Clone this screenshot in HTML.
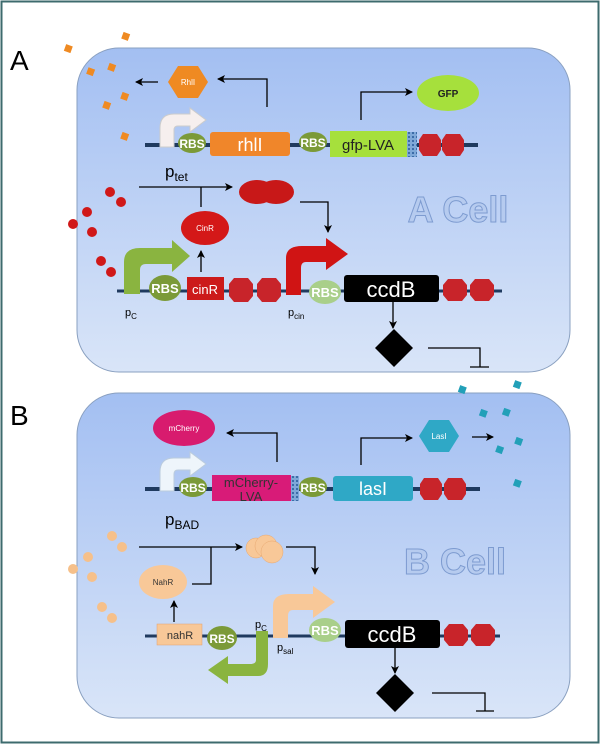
<!DOCTYPE html>
<html><head><meta charset="utf-8"><style>
html,body{margin:0;padding:0;background:#fff;}
svg{display:block;font-family:"Liberation Sans",Arial,sans-serif;}
</style></head><body>
<svg width="600" height="744" viewBox="0 0 600 744">
<defs>
<linearGradient id="cellg" x1="0" y1="0" x2="0" y2="1">
<stop offset="0" stop-color="#a3bff2"/><stop offset="1" stop-color="#d9e5f8"/></linearGradient>
<marker id="ah" markerWidth="8" markerHeight="8" refX="7" refY="4" orient="auto" markerUnits="userSpaceOnUse">
<path d="M0,0 L8,4 L0,8 L2,4 Z" fill="#000"/></marker>
<pattern id="hatch" width="4" height="4" patternUnits="userSpaceOnUse">
<rect width="4" height="4" fill="#7fa8d8"/><rect width="2" height="2" fill="#3c6ca8"/></pattern>
</defs>
<rect x="1.5" y="1.5" width="597" height="741" fill="#fff" stroke="#3d6b6e" stroke-width="2"/>

<!-- A -->
<text x="10" y="70" font-size="28" fill="#000">A</text>
<rect x="77" y="48" width="493" height="324" rx="42" fill="url(#cellg)" stroke="#8aa0c0" stroke-width="1"/>
<text x="458" y="222" font-size="36" font-weight="bold" text-anchor="middle" fill="#b6cbef" stroke="#7d9bd0" stroke-width="1">A Cell</text>

<g fill="#ef8a22">
<rect x="65" y="45" width="7" height="7" transform="rotate(20 68 48)"/>
<rect x="122" y="33" width="7" height="7" transform="rotate(20 126 37)"/>
<rect x="87" y="68" width="7" height="7" transform="rotate(20 90 72)"/>
<rect x="108" y="64" width="7" height="7" transform="rotate(20 112 68)"/>
<rect x="121" y="93" width="7" height="7" transform="rotate(20 125 97)"/>
<rect x="103" y="102" width="7" height="7" transform="rotate(20 107 106)"/>
<rect x="121" y="133" width="7" height="7" transform="rotate(20 125 137)"/>
</g>
<g fill="#d01818">
<circle cx="110" cy="192" r="5"/><circle cx="121" cy="202" r="5"/><circle cx="87" cy="212" r="5"/>
<circle cx="73" cy="224" r="5"/><circle cx="92" cy="232" r="5"/><circle cx="101" cy="261" r="5"/><circle cx="111" cy="272" r="5"/>
</g>

<line x1="145" y1="145" x2="478" y2="145" stroke="#1f3a5f" stroke-width="4"/>
<path d="M160,147 L160,128 Q160,114 174,114 L190,114 L190,108 L206,120 L190,132 L190,126 L178,126 Q174,126 174,130 L174,147 Z" fill="#f6efee" stroke="#ccc"/>
<ellipse cx="192" cy="143" rx="14" ry="10" fill="#7b9a38"/>
<text x="192" y="148" font-size="12" font-weight="bold" fill="#fff" text-anchor="middle">RBS</text>
<rect x="210" y="132" width="80" height="24" rx="3" fill="#f0862a"/>
<text x="250" y="151" font-size="18" fill="#fff" text-anchor="middle">rhlI</text>
<ellipse cx="313" cy="142" rx="14" ry="10" fill="#7b9a38"/>
<text x="313" y="147" font-size="12" font-weight="bold" fill="#fff" text-anchor="middle">RBS</text>
<rect x="330" y="131" width="77" height="26" fill="#a6e03c"/>
<text x="368" y="150" font-size="15" fill="#222" text-anchor="middle">gfp-LVA</text>
<rect x="407" y="132" width="10" height="25" fill="url(#hatch)"/>
<g fill="#c8242a">
<polygon points="423,134 437,134 441,140 441,150 437,156 423,156 419,150 419,140"/>
<polygon points="446,134 460,134 464,140 464,150 460,156 446,156 442,150 442,140"/>
</g>
<text x="165" y="177" font-size="17" fill="#000">p<tspan font-size="12" dy="4">tet</tspan></text>

<polygon points="178,66 198,66 208,82 198,98 178,98 168,82" fill="#ef8a22"/>
<text x="188" y="85" font-size="8" fill="#fff" text-anchor="middle">RhlI</text>
<path d="M267,107 L267,79 L218,79" fill="none" stroke="#000" stroke-width="1.3" marker-end="url(#ah)"/>
<path d="M158,82 L136,82" fill="none" stroke="#000" stroke-width="1.3" marker-end="url(#ah)"/>
<ellipse cx="448" cy="93" rx="31" ry="18" fill="#a6e03c"/>
<text x="448" y="97" font-size="10" font-weight="bold" fill="#222" text-anchor="middle">GFP</text>
<path d="M361,120 L361,92 L412,92" fill="none" stroke="#000" stroke-width="1.3" marker-end="url(#ah)"/>

<path d="M139,187 L232,187" fill="none" stroke="#000" stroke-width="1.3" marker-end="url(#ah)"/>
<line x1="201" y1="187" x2="201" y2="207" stroke="#000" stroke-width="1.3"/>
<g fill="#c81818">
<ellipse cx="257" cy="192" rx="18" ry="12"/><ellipse cx="276" cy="192" rx="18" ry="12"/>
</g>
<path d="M300,202 L328,202 L328,232" fill="none" stroke="#000" stroke-width="1.3" marker-end="url(#ah)"/>
<ellipse cx="205" cy="228" rx="24" ry="17" fill="#d41818"/>
<text x="205" y="231" font-size="8" fill="#fff" text-anchor="middle">CinR</text>
<path d="M201,272 L201,251" fill="none" stroke="#000" stroke-width="1.3" marker-end="url(#ah)"/>

<line x1="117" y1="291" x2="502" y2="291" stroke="#1f3a5f" stroke-width="3"/>
<path d="M124,294 L124,262 Q124,248 140,248 L172,248 L172,240 L190,256 L172,272 L172,264 L146,264 Q140,264 140,270 L140,294 Z" fill="#8ab440"/>
<ellipse cx="165" cy="288" rx="16" ry="13" fill="#7b9a38"/>
<text x="165" y="293" font-size="13" font-weight="bold" fill="#fff" text-anchor="middle">RBS</text>
<rect x="187" y="277" width="37" height="23" fill="#cc1a1a"/>
<text x="205" y="294" font-size="13" fill="#fff" text-anchor="middle">cinR</text>
<g fill="#c8242a">
<polygon points="234,278 248,278 253,284 253,296 248,302 234,302 229,296 229,284"/>
<polygon points="262,278 276,278 281,284 281,296 276,302 262,302 257,296 257,284"/>
</g>
<path d="M286,295 L286,258 Q286,246 302,246 L326,246 L326,238 L348,254 L326,270 L326,262 L306,262 Q301,262 301,268 L301,295 Z" fill="#d01414"/>
<ellipse cx="325" cy="292" rx="16" ry="12" fill="#a9cf8a"/>
<text x="325" y="297" font-size="13" font-weight="bold" fill="#fff" text-anchor="middle">RBS</text>
<rect x="344" y="275" width="95" height="27" rx="3" fill="#000"/>
<text x="391" y="297" font-size="22" fill="#fff" text-anchor="middle">ccdB</text>
<g fill="#c8242a">
<polygon points="448,279 462,279 467,285 467,295 462,301 448,301 443,295 443,285"/>
<polygon points="475,279 489,279 494,285 494,295 489,301 475,301 470,295 470,285"/>
</g>
<text x="125" y="316" font-size="11" fill="#000">p<tspan font-size="8" dy="3">C</tspan></text>
<text x="288" y="316" font-size="11" fill="#000">p<tspan font-size="8" dy="3">cin</tspan></text>
<path d="M393,302 L393,328" fill="none" stroke="#000" stroke-width="1.3" marker-end="url(#ah)"/>
<polygon points="394,329 413,348 394,367 375,348" fill="#000"/>
<path d="M428,348 L480,348 L480,367 M470,367 L489,367" fill="none" stroke="#000" stroke-width="1.3"/>

<!-- B -->
<text x="10" y="425" font-size="28" fill="#000">B</text>
<rect x="77" y="393" width="493" height="325" rx="42" fill="url(#cellg)" stroke="#8aa0c0" stroke-width="1"/>
<text x="455" y="574" font-size="36" font-weight="bold" text-anchor="middle" fill="#b6cbef" stroke="#7d9bd0" stroke-width="1">B Cell</text>

<g fill="#22a0b8">
<rect x="459" y="386" width="7" height="7" transform="rotate(20 462 389)"/>
<rect x="514" y="381" width="7" height="7" transform="rotate(20 517 384)"/>
<rect x="480" y="410" width="7" height="7" transform="rotate(20 484 413)"/>
<rect x="503" y="409" width="7" height="7" transform="rotate(20 507 412)"/>
<rect x="496" y="446" width="7" height="7" transform="rotate(20 499 450)"/>
<rect x="515" y="438" width="7" height="7" transform="rotate(20 519 442)"/>
<rect x="514" y="480" width="7" height="7" transform="rotate(20 518 483)"/>
</g>
<g fill="#f6c08a">
<circle cx="112" cy="536" r="5"/><circle cx="122" cy="547" r="5"/><circle cx="88" cy="557" r="5"/>
<circle cx="73" cy="569" r="5"/><circle cx="92" cy="577" r="5"/><circle cx="102" cy="607" r="5"/><circle cx="112" cy="618" r="5"/>
</g>

<line x1="145" y1="489" x2="480" y2="489" stroke="#1f3a5f" stroke-width="4"/>
<path d="M160,491 L160,472 Q160,458 174,458 L190,458 L190,452 L206,464 L190,476 L190,470 L178,470 Q174,470 174,474 L174,491 Z" fill="#eef5fb" stroke="#bcd"/>
<ellipse cx="193" cy="487" rx="14" ry="10" fill="#7b9a38"/>
<text x="193" y="492" font-size="12" font-weight="bold" fill="#fff" text-anchor="middle">RBS</text>
<rect x="212" y="475" width="79" height="26" fill="#d81b78"/>
<text x="251" y="487" font-size="13" fill="#333" text-anchor="middle">mCherry-</text>
<text x="251" y="501" font-size="13" fill="#333" text-anchor="middle">LVA</text>
<rect x="291" y="476" width="8" height="25" fill="url(#hatch)"/>
<ellipse cx="313" cy="487" rx="14" ry="10" fill="#7b9a38"/>
<text x="313" y="492" font-size="12" font-weight="bold" fill="#fff" text-anchor="middle">RBS</text>
<rect x="333" y="476" width="80" height="25" rx="3" fill="#2fa8c6"/>
<text x="373" y="495" font-size="18" fill="#fff" text-anchor="middle">lasI</text>
<g fill="#c8242a">
<polygon points="424,478 438,478 442,484 442,494 438,500 424,500 420,494 420,484"/>
<polygon points="448,478 462,478 466,484 466,494 462,500 448,500 444,494 444,484"/>
</g>
<text x="165" y="525" font-size="17" fill="#000">p<tspan font-size="12" dy="4">BAD</tspan></text>

<ellipse cx="184" cy="428" rx="31" ry="18" fill="#d81b6e"/>
<text x="184" y="431" font-size="8" fill="#fff" text-anchor="middle">mCherry</text>
<path d="M277,462 L277,433 L227,433" fill="none" stroke="#000" stroke-width="1.3" marker-end="url(#ah)"/>
<path d="M361,465 L361,438 L412,438" fill="none" stroke="#000" stroke-width="1.3" marker-end="url(#ah)"/>
<polygon points="429,420 449,420 459,436 449,452 429,452 419,436" fill="#2fa8c6"/>
<text x="439" y="439" font-size="8" fill="#fff" text-anchor="middle">LasI</text>
<path d="M472,437 L493,437" fill="none" stroke="#000" stroke-width="1.3" marker-end="url(#ah)"/>

<path d="M139,547 L242,547" fill="none" stroke="#000" stroke-width="1.3" marker-end="url(#ah)"/>
<path d="M211,547 L211,584 L192,584" fill="none" stroke="#000" stroke-width="1.3"/>
<g fill="#f8c898" stroke="#e8a870" stroke-width="0.5">
<circle cx="256" cy="548" r="10"/><circle cx="266" cy="546" r="11"/><circle cx="272" cy="552" r="11"/>
</g>
<path d="M286,547 L315,547 L315,574" fill="none" stroke="#000" stroke-width="1.3" marker-end="url(#ah)"/>
<ellipse cx="163" cy="582" rx="24" ry="17" fill="#f8c898"/>
<text x="163" y="585" font-size="8" fill="#333" text-anchor="middle">NahR</text>
<path d="M174,622 L174,601" fill="none" stroke="#000" stroke-width="1.3" marker-end="url(#ah)"/>

<line x1="145" y1="636" x2="500" y2="636" stroke="#1f3a5f" stroke-width="3"/>
<rect x="157" y="624" width="45" height="21" fill="#f8c898" stroke="#e0a070" stroke-width="0.5"/>
<text x="180" y="639" font-size="11" fill="#333" text-anchor="middle">nahR</text>
<ellipse cx="222" cy="638" rx="15" ry="12" fill="#7b9a38"/>
<text x="222" y="643" font-size="12" font-weight="bold" fill="#fff" text-anchor="middle">RBS</text>
<path d="M256,631 L256,660 Q256,664 250,664 L228,664 L228,656 L208,670 L228,684 L228,676 L258,676 Q268,676 268,664 L268,631 Z" fill="#8ab440"/>
<text x="255" y="628" font-size="11" fill="#000">p<tspan font-size="8" dy="3">C</tspan></text>
<path d="M273,638 L273,606 Q273,594 289,594 L313,594 L313,586 L335,602 L313,618 L313,610 L293,610 Q288,610 288,616 L288,638 Z" fill="#f8c898"/>
<ellipse cx="325" cy="630" rx="16" ry="12" fill="#a9cf8a"/>
<text x="325" y="635" font-size="13" font-weight="bold" fill="#fff" text-anchor="middle">RBS</text>
<rect x="345" y="620" width="95" height="28" rx="3" fill="#000"/>
<text x="392" y="642" font-size="22" fill="#fff" text-anchor="middle">ccdB</text>
<g fill="#c8242a">
<polygon points="449,624 463,624 468,630 468,640 463,646 449,646 444,640 444,630"/>
<polygon points="476,624 490,624 495,630 495,640 490,646 476,646 471,640 471,630"/>
</g>
<text x="277" y="651" font-size="11" fill="#000">p<tspan font-size="8" dy="3">sal</tspan></text>
<path d="M395,648 L395,673" fill="none" stroke="#000" stroke-width="1.3" marker-end="url(#ah)"/>
<polygon points="395,674 414,693 395,712 376,693" fill="#000"/>
<path d="M432,693 L485,693 L485,711 M476,711 L494,711" fill="none" stroke="#000" stroke-width="1.3"/>
</svg>
</body></html>
